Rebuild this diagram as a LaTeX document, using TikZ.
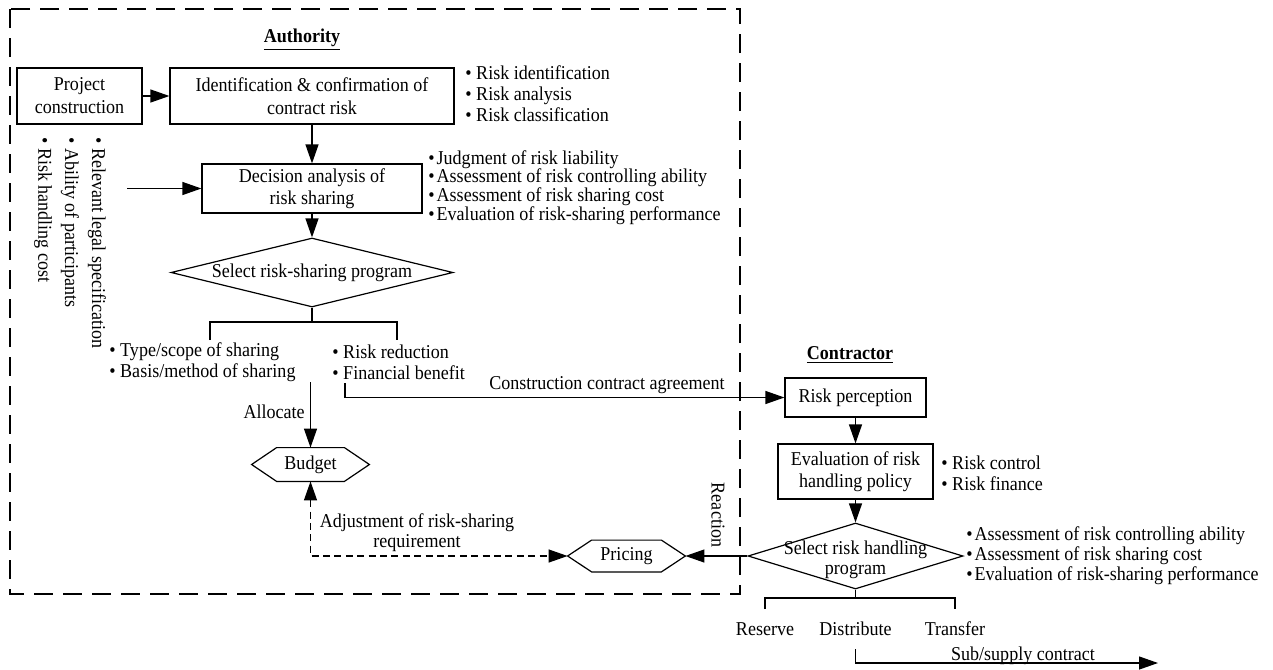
\documentclass[tikz,border=0pt]{standalone}
\usepackage{fontspec}
\setmainfont{Liberation Serif}[FakeStretch=0.92]
\usetikzlibrary{arrows.meta,shapes.geometric,calc}

% outline of a flat hexagon around a (rectangular, undrawn) node
\newcommand\hexframe[2]{%
  \draw[lnk] (#1.west) -- ([xshift=#2]#1.north west) -- ([xshift=-#2]#1.north east)
    -- (#1.east) -- ([xshift=-#2]#1.south east) -- ([xshift=#2]#1.south west) -- cycle;}

\begin{document}
\begin{tikzpicture}[x=0.5pt,y=-0.5pt,
  font=\fontsize{9.8}{11}\selectfont,
  lnk/.style={line width=0.6pt},
  arr/.style={lnk,-{Triangle[length=9.5pt,width=6.5pt]}},
  blk/.style={draw,line width=0.6pt,inner sep=0pt,align=center},
  dmd/.style={draw,line width=0.6pt,shape=diamond,inner sep=0pt},
  hexn/.style={inner sep=0pt,minimum width=58.5pt},
  blist/.style={align=left,inner sep=0pt,anchor=west},
  rot/.style={rotate=-90,anchor=west,inner sep=0pt},
  ttl/.style={font=\fontsize{9.8}{11}\selectfont\bfseries,inner sep=0pt},
  opt/.style={inner sep=0pt,outer sep=0pt,minimum height=20pt},
  grp/.style={draw,line width=1.3pt,dash pattern=on 9.5pt off 5pt},
  adj/.style={lnk,dash pattern=on 3.5pt off 2.2pt,
    {Triangle[length=9.5pt,width=6.5pt]}-{Triangle[length=9.5pt,width=6.5pt]}}
]
\useasboundingbox (0,0) rectangle (1273,669);

% authority area
\draw[grp] (10,9) rectangle (740,594);
\node[ttl] (authT) at (302,40) {\underline{Authority}};

\node[blk,minimum width=62.5pt,minimum height=28pt,font=\fontsize{9.8}{11.5}\selectfont] (proj) at (79.5,96) {Project\\construction};
\node[blk,minimum width=142pt,minimum height=28pt,font=\fontsize{9.8}{11.5}\selectfont] (ident) at (312,96) {Identification \& confirmation of\\contract risk};
\node[blist,font=\fontsize{9.8}{10.5}\selectfont] (identL) at (465,94)
  {\textbullet\ Risk identification\\\textbullet\ Risk analysis\\\textbullet\ Risk classification};

\node[blk,minimum width=110pt,minimum height=24.5pt] (dec) at (312,188.5) {Decision analysis of\\risk sharing};
\node[blist,font=\fontsize{9.8}{9.3}\selectfont] (decL) at (428,187.5)
  {\textbullet\hspace{1pt}Judgment of risk liability\\
   \textbullet\hspace{1pt}Assessment of risk controlling ability\\
   \textbullet\hspace{1pt}Assessment of risk sharing cost\\
   \textbullet\hspace{1pt}Evaluation of risk-sharing performance};

\node[rot] (fac1) at (97,137) {\textbullet\ Relevant legal specification};
\node[rot] (fac2) at (70,137) {\textbullet\ Ability of participants};
\node[rot] (fac3) at (43,137) {\textbullet\ Risk handling cost};
\coordinate (facR) at (127,188.5);

\draw[arr] (proj) -- (ident);
\draw[arr] (ident) -- (dec);
\draw[arr] (facR) -- (dec.west);

\node[dmd,minimum width=141pt,minimum height=34.5pt,
  label={center:Select risk-sharing program}] (sel1) at (312,272.5) {};
\draw[arr] (dec) -- (sel1);

\coordinate (fk1) at (312,322);
\coordinate (l1) at (210,340);
\coordinate (r1) at (397,340);
\draw[lnk] (sel1.south) -- (fk1);
\draw[lnk] (l1) |- (fk1) -| (r1);

\node[blist,font=\fontsize{9.8}{10.5}\selectfont] (lstA) at (109,362.5)
  {\textbullet\ Type/scope of sharing\\\textbullet\ Basis/method of sharing};
\node[blist,font=\fontsize{9.8}{10.5}\selectfont] (lstB) at (332,362.5)
  {\textbullet\ Risk reduction\\\textbullet\ Financial benefit};

\node[hexn,minimum height=16.5pt] (budget) at (310.5,464.5) {Budget};
\hexframe{budget}{12.5pt}
\coordinate (alc) at (310.5,382);
\draw[arr] (alc) -- (budget.north);
\node[anchor=east,inner sep=0pt] (allocT) at (305,412) {Allocate};

\node[hexn,minimum height=15.5pt] (pricing) at (626.5,556) {Pricing};
\hexframe{pricing}{12pt}
\draw[adj] (budget.south) |- (pricing.west);
\node[align=center,inner sep=0pt,font=\fontsize{9.8}{10}\selectfont] (adjT) at (417,533)
  {Adjustment of risk-sharing\\requirement};

% contractor side
\node[ttl] (contT) at (850,355) {\underline{Contractor}};
\node[blk,minimum width=70.5pt,minimum height=19.5pt] (rp) at (855.5,397.5) {Risk perception};
\coordinate (cst) at (345,383);
\draw[arr] (cst) |- (rp.west);
\node[inner sep=0pt] (cstT) at (607,385) {Construction contract agreement};

\node[blk,minimum width=77.5pt,minimum height=27.5pt] (ev) at (855.5,471.5) {Evaluation of risk\\handling policy};
\node[blist,font=\fontsize{9.8}{10.5}\selectfont] (evL) at (941,473)
  {\textbullet\ Risk control\\\textbullet\ Risk finance};
\draw[arr] (rp) -- (ev);

\node[dmd,minimum width=107.5pt,minimum height=33pt,
  label={[align=center,yshift=-2pt,font=\fontsize{9.8}{10}\selectfont]center:Select risk handling\\program}] (sel2) at (855.5,556) {};
\draw[arr] (ev) -- (sel2);
\node[blist,font=\fontsize{9.8}{10}\selectfont] (sel2L) at (966,556)
  {\textbullet\hspace{1pt}Assessment of risk controlling ability\\
   \textbullet\hspace{1pt}Assessment of risk sharing cost\\
   \textbullet\hspace{1pt}Evaluation of risk-sharing performance};

\draw[arr] (sel2.west) -- (pricing.east);
\node[rotate=-90,inner sep=0pt] (reactT) at (718,515) {Reaction};

\coordinate (fk2) at (855.5,598);
\node[opt] (resv) at (765,629) {Reserve};
\node[opt] (distr) at (855.5,629) {Distribute};
\node[opt] (trans) at (955,629) {Transfer};
\draw[lnk] (sel2.south) -- (fk2);
\draw[lnk] (resv.north) |- (fk2) -| (trans.north);

\coordinate (subE) at (1158,663);
\draw[arr] (distr.south) |- (subE);
\node[anchor=base,inner sep=0pt] (subT) at (1023,660) {Sub/supply contract};
\end{tikzpicture}
\end{document}
